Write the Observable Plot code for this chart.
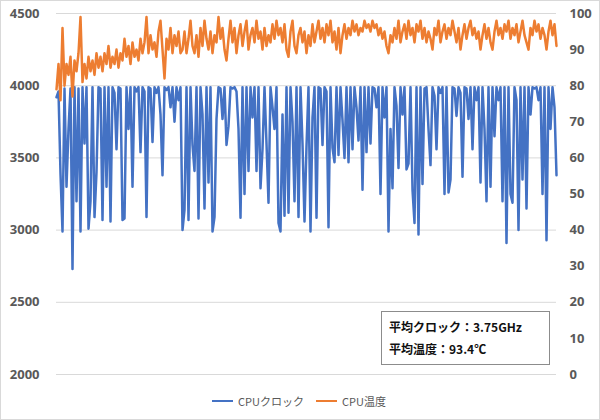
<!DOCTYPE html>
<html>
<head>
<meta charset="utf-8">
<script src="https://cdn.jsdelivr.net/npm/d3@7"></script>
<script src="https://cdn.jsdelivr.net/npm/@observablehq/plot@0.6"></script>
<style>
  html, body { margin: 0; padding: 0; background: #fff; }
  #wrap { position: relative; width: 600px; height: 420px; overflow: hidden; font-family: "Noto Sans CJK JP", "Liberation Sans", sans-serif; }
  #frame { position: absolute; left: 0; top: 0; width: 600px; height: 420px; box-sizing: border-box; border: 1px solid #d9d9d9; pointer-events: none; }
  #chart { position: absolute; left: 0; top: 0; }
  #chart svg text { font-weight: 700 !important; font-family: "Open Sans", "Liberation Sans", sans-serif !important; }
  #note { position: absolute; left: 381px; top: 311px; width: 169px; height: 54px; box-sizing: border-box; border: 1px solid #8c8c8c; background: #fff; font-weight: bold; font-size: 12px; color: #111; }
  #note div { position: absolute; left: 7px; white-space: nowrap; line-height: 14px; }
  #legend { position: absolute; left: 0; top: 393px; width: 600px; height: 16px; font-size: 11px; color: #595959; }
  .lg { position: absolute; top: 0; display: flex; align-items: center; height: 16px; white-space: nowrap; }
  .sw { display: inline-block; width: 21px; height: 2.5px; margin-right: 5px; }
</style>
</head>
<body>
<div id="wrap">
  <div id="chart"></div>
  <div id="note"><div style="top:8px">平均クロック：3.75GHz</div><div style="top:30px">平均温度：93.4℃</div></div>
  <div id="legend">
    <div class="lg" style="left:212px"><span class="sw" style="background:#4472C4"></span>CPUクロック</div>
    <div class="lg" style="left:316px"><span class="sw" style="background:#ED7D31"></span>CPU温度</div>
  </div>
  <div id="frame"></div>
</div>
<script>
// CPU clock (MHz)
const clock = [
3920,3960,3390,2990,3980,3300,3700,3980,2730,3990,3200,3980,2990,3990,3600,3990,3010,3200,3990,3090,
3400,3990,3980,3070,3990,3300,3990,3060,3990,3950,3560,3990,3980,3070,3080,3990,3700,3990,3300,3990,
3960,3990,3540,3990,3960,3090,3990,3980,3610,3990,3950,3990,3800,3380,3990,3970,3990,3850,3990,3750,
3990,3900,3990,
3000,3140,3990,3070,3990,3590,3410,3990,3080,3990,3800,3150,3990,3330,3990,2990,3090,3770,3990,3980,
3770,3990,3590,3720,3990,3980,3990,3960,3700,3085,3990,3250,3990,3410,3990,3780,3990,3410,3990,3290,
3560,3990,3600,3190,3990,3850,3700,3990,3050,2990,3800,3100,3990,3120,3990,3750,3200,3990,3090,3990,
3600,3060,
3580,3990,2990,3780,3990,3085,3990,3980,3590,3990,3960,3020,3990,3570,3470,3990,3520,3990,3760,3500,
3990,3470,3990,3560,3990,3850,3620,3990,3280,3990,3540,3990,3600,3990,3980,3850,3990,3250,3990,3780,
3990,2990,3700,3290,3990,3860,3430,3990,3800,3990,3420,3460,3990,3280,3050,3990,2970,3990,3320,3980,
3990,3700,
3450,3990,3930,3560,3990,3950,3990,3250,3990,3260,3350,3990,3980,3790,3990,3950,3370,3990,3980,3770,
3990,3560,3990,3900,3990,3330,3990,3700,3200,3990,3300,3990,3650,3990,3900,3990,3200,3990,2910,3990,
3250,3190,3990,3900,3000,3990,3350,3990,3150,3990,3800,3990,3980,3990,3900,3990,3250,3990,2930,3990,
3700,3990,3850,3380
];
// CPU temperature (°C)
const temp = [
79,86,76,96,80,86,83,88,77,87,84,89,99,81,86,82,88,84,87,83,
89,85,88,84,89,86,91,85,88,86,90,85,89,87,93,88,91,86,92,88,
90,87,93,89,92,99,89,94,90,92,88,95,98,90,82,93,90,96,89,94,
91,95,89,
90,95,89,93,98,91,89,94,88,96,91,98,93,90,95,89,94,92,99,93,
96,90,87,93,98,92,96,89,94,97,91,95,98,90,94,96,92,98,93,95,
90,96,91,94,92,97,93,98,94,96,92,97,90,88,95,98,91,89,94,96,
92,95,
89,94,91,97,92,95,98,93,96,92,97,94,98,92,95,90,96,89,94,97,
93,96,94,98,95,97,94,96,95,98,96,97,95,98,96,97,94,96,93,95,
91,89,94,92,96,93,98,92,95,97,93,98,94,96,92,97,95,98,93,96,
92,95,
93,90,96,94,98,92,95,97,93,96,94,98,95,92,96,90,94,97,93,96,
98,94,96,93,95,90,94,97,93,96,92,90,95,98,94,96,93,97,95,98,
93,96,94,97,92,95,98,94,92,90,96,94,98,95,97,93,96,94,90,95,
98,94,97,91
];
const leftTicks = [2000, 2500, 3000, 3500, 4000, 4500];
const rightTicks = [0, 10, 20, 30, 40, 50, 60, 70, 80, 90, 100];
const toLeft = t => 2000 + t * 25; // right axis 0–100 ↔ left axis 2000–4500

const chart = Plot.plot({
  width: 600,
  height: 390,
  marginTop: 13,
  marginBottom: 16,
  marginLeft: 56,
  marginRight: 44,
  style: {background: "transparent", color: "#595959", fontSize: "13px", fontFamily: "'Open Sans', sans-serif"},
  x: {domain: [0, clock.length - 1], axis: null},
  y: {domain: [2000, 4500]},
  marks: [
    Plot.gridY(leftTicks, {stroke: "#d9d9d9", strokeOpacity: 1, strokeWidth: 1}),
    Plot.axisY(leftTicks, {anchor: "left", tickSize: 0, tickPadding: 17, label: null, fill: "#595959", fontWeight: "bold", tickFormat: d => String(d)}),
    Plot.axisY(rightTicks.map(toLeft), {anchor: "right", tickSize: 0, tickPadding: 13, label: null, fill: "#595959", fontWeight: "bold", tickFormat: d => String(Math.round((d - 2000) / 25))}),
    Plot.lineY(clock, {stroke: "#4472C4", strokeWidth: 2.5}),
    Plot.lineY(temp, {y: d => toLeft(d), stroke: "#ED7D31", strokeWidth: 2.5})
  ]
});
document.getElementById("chart").appendChild(chart);
</script>
</body>
</html>
